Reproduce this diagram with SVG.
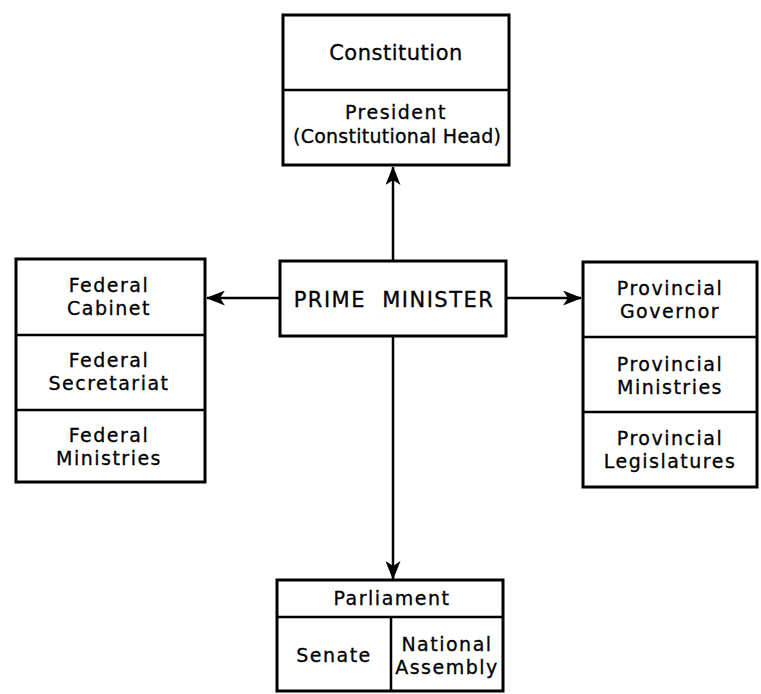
<svg xmlns="http://www.w3.org/2000/svg" width="761" height="694" viewBox="0 0 761 694">
<style>
.box{fill:#fff;stroke:#000;stroke-width:3}
.div{stroke:#000;stroke-width:2.5}
.t{font-family:"DejaVu Sans","Liberation Sans",sans-serif;font-size:19px;letter-spacing:1.5px;text-anchor:middle;fill:#000;stroke:#000;stroke-width:0.3}
.con{stroke:#000;stroke-width:2.5;fill:none}
</style>
<defs>
<marker id="ah" markerWidth="19" markerHeight="15" refX="18" refY="7.5" orient="auto" markerUnits="userSpaceOnUse">
<path d="M0,0 L19,7.5 L0,15 L5,7.5 Z" fill="#000"/>
</marker>
</defs>
<rect width="761" height="694" fill="#fff"/>
<g id="connectors">
<line class="con" x1="393" y1="261" x2="393" y2="167" marker-end="url(#ah)"/>
<line class="con" x1="393" y1="336" x2="393" y2="579" marker-end="url(#ah)"/>
<line class="con" x1="280" y1="298" x2="207" y2="298" marker-end="url(#ah)"/>
<line class="con" x1="506" y1="298" x2="581" y2="298" marker-end="url(#ah)"/>
</g>
<g id="constitution">
<rect class="box" x="283" y="15" width="226" height="150"/>
<line class="div" x1="283" y1="90" x2="509" y2="90"/>
<text class="t" x="396" y="60" style="font-size:21px;letter-spacing:0.5px">Constitution</text>
<text class="t" x="396" y="119">President</text>
<text class="t" x="397" y="143" style="letter-spacing:0px" textLength="208" lengthAdjust="spacing">(Constitutional Head)</text>
</g>
<g id="prime-minister">
<rect class="box" x="280" y="261" width="226" height="75"/>
<text class="t" x="394" y="307" style="font-size:21px;letter-spacing:1.5px;word-spacing:8px">PRIME MINISTER</text>
</g>
<g id="federal">
<rect class="box" x="16" y="259" width="189" height="223"/>
<line class="div" x1="16" y1="335" x2="205" y2="335"/>
<line class="div" x1="16" y1="410" x2="205" y2="410"/>
<text class="t" x="109" y="292">Federal</text>
<text class="t" x="109" y="315">Cabinet</text>
<text class="t" x="109" y="367">Federal</text>
<text class="t" x="109" y="390">Secretariat</text>
<text class="t" x="109" y="442">Federal</text>
<text class="t" x="109" y="465">Ministries</text>
</g>
<g id="provincial">
<rect class="box" x="583" y="262" width="174" height="225"/>
<line class="div" x1="583" y1="337" x2="757" y2="337"/>
<line class="div" x1="583" y1="412" x2="757" y2="412"/>
<text class="t" x="670" y="295">Provincial</text>
<text class="t" x="670" y="318">Governor</text>
<text class="t" x="670" y="371">Provincial</text>
<text class="t" x="670" y="394">Ministries</text>
<text class="t" x="670" y="445">Provincial</text>
<text class="t" x="670" y="468">Legislatures</text>
</g>
<g id="parliament">
<rect class="box" x="277" y="580" width="226" height="111"/>
<line class="div" x1="277" y1="617" x2="503" y2="617"/>
<line class="div" x1="391" y1="617" x2="391" y2="691"/>
<text class="t" x="392" y="605">Parliament</text>
<text class="t" x="334" y="662">Senate</text>
<text class="t" x="447" y="651">National</text>
<text class="t" x="447" y="674">Assembly</text>
</g>
</svg>
